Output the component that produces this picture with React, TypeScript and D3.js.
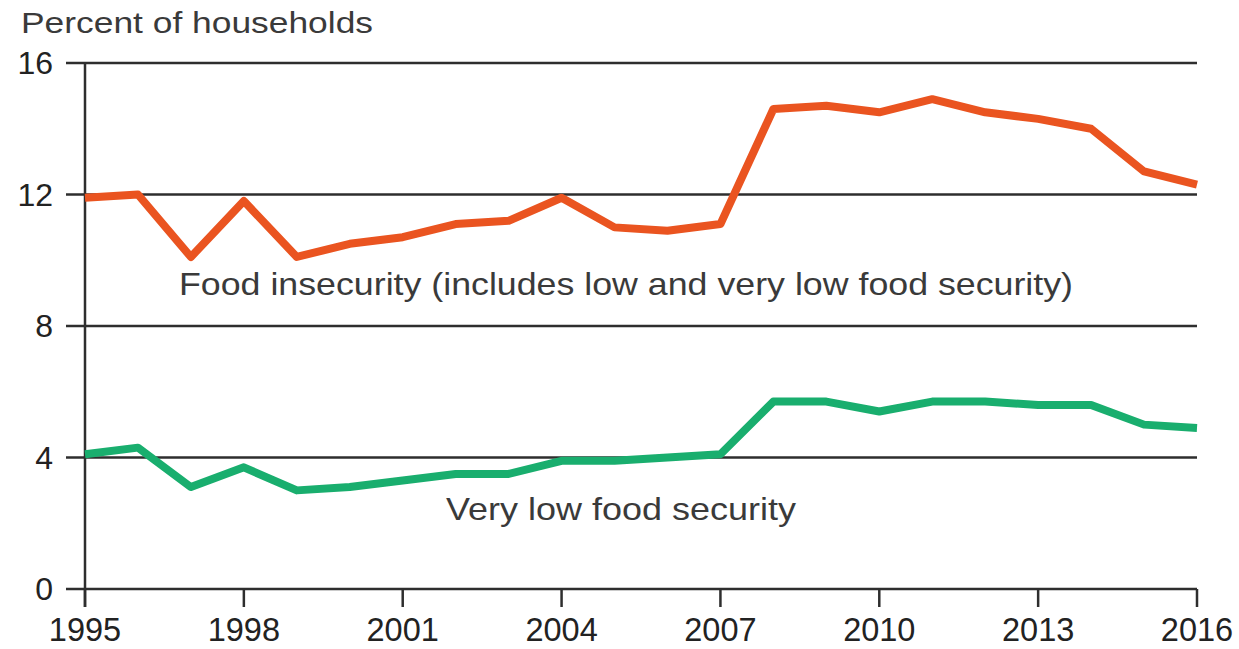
import React from "react";
import * as d3 from "d3";

const years: number[] = [1995,1996,1997,1998,1999,2000,2001,2002,2003,2004,2005,2006,2007,2008,2009,2010,2011,2012,2013,2014,2015,2016];
const foodInsecurity: number[] = [11.9,12.0,10.1,11.8,10.1,10.5,10.7,11.1,11.2,11.9,11.0,10.9,11.1,14.6,14.7,14.5,14.9,14.5,14.3,14.0,12.7,12.3];
const veryLowFoodSecurity: number[] = [4.1,4.3,3.1,3.7,3.0,3.1,3.3,3.5,3.5,3.9,3.9,4.0,4.1,5.7,5.7,5.4,5.7,5.7,5.6,5.6,5.0,4.9];
const yTicks: number[] = [0,4,8,12,16];
const xTicks: number[] = [1995,1998,2001,2004,2007,2010,2013,2016];

const W = 1239;
const H = 649;
const FONT = "'Liberation Sans', Arial, Helvetica, sans-serif";

export default function App() {
  const x = d3.scaleLinear().domain([1995, 2016]).range([85, 1197]);
  const y = d3.scaleLinear().domain([0, 16]).range([589, 63]);

  const line = d3
    .line<number>()
    .x((_, i) => x(years[i]))
    .y((d) => y(d));

  const gridColor = "#2e2e2e";
  const textColor = "#3a3a3a";

  return (
    <svg
      width={W}
      height={H}
      style={{ position: "absolute", left: 0, top: 0, background: "#fff" }}
    >
      <text
        x={21}
        y={33}
        fontFamily={FONT}
        fontSize={29}
        fill={textColor}
        textLength={352}
        lengthAdjust="spacingAndGlyphs"
      >
        Percent of households
      </text>

      {yTicks.map((t) => (
        <g key={"y" + t}>
          <line
            x1={66}
            x2={1197}
            y1={y(t)}
            y2={y(t)}
            stroke={gridColor}
            strokeWidth={2.5}
          />
          <text
            x={53}
            y={y(t) + 11}
            textAnchor="end"
            fontFamily={FONT}
            fontSize={32}
            fill="#222"
          >
            {t}
          </text>
        </g>
      ))}

      <line x1={x(1995)} x2={x(1995)} y1={y(16)} y2={607} stroke={gridColor} strokeWidth={2.5} />

      {xTicks.map((t) => (
        <g key={"x" + t}>
          <line x1={x(t)} x2={x(t)} y1={y(0)} y2={607} stroke={gridColor} strokeWidth={2.5} />
          <text
            x={x(t)}
            y={641}
            textAnchor="middle"
            fontFamily={FONT}
            fontSize={32.5}
            fill="#222"
          >
            {t}
          </text>
        </g>
      ))}

      <path
        d={line(foodInsecurity) || ""}
        fill="none"
        stroke="#EA5420"
        strokeWidth={8}
        strokeLinejoin="round"
      />
      <path
        d={line(veryLowFoodSecurity) || ""}
        fill="none"
        stroke="#19AE6E"
        strokeWidth={8}
        strokeLinejoin="round"
      />

      <text
        x={179}
        y={295}
        fontFamily={FONT}
        fontSize={32}
        fill={textColor}
        textLength={894}
        lengthAdjust="spacingAndGlyphs"
      >
        Food insecurity (includes low and very low food security)
      </text>
      <text
        x={446}
        y={520}
        fontFamily={FONT}
        fontSize={32}
        fill={textColor}
        textLength={350}
        lengthAdjust="spacingAndGlyphs"
      >
        Very low food security
      </text>
    </svg>
  );
}
